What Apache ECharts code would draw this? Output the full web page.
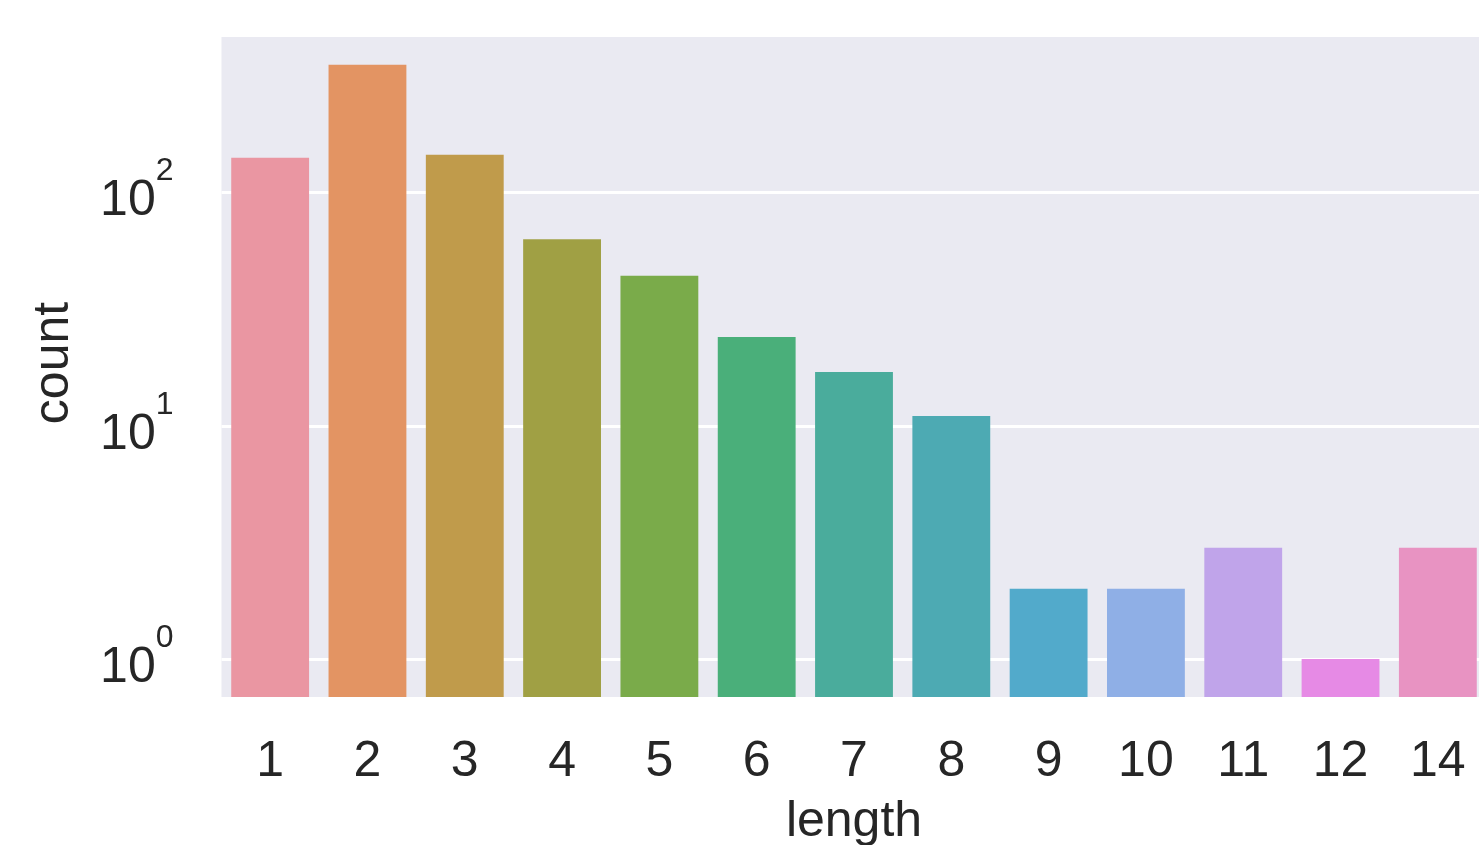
<!DOCTYPE html>
<html>
<head>
<meta charset="utf-8">
<script src="https://cdn.jsdelivr.net/npm/echarts@6/dist/echarts.min.js"></script>
<style>
  html, body { margin: 0; padding: 0; background: #fff; }
  #chart { width: 1479px; height: 845px; }
</style>
</head>
<body>
<div id="chart"></div>
<script>
// 数据
const lengths = ['1', '2', '3', '4', '5', '6', '7', '8', '9', '10', '11', '12', '14'];
const counts = [141, 353, 145, 63, 44, 24, 17, 11, 2, 2, 3, 1, 3];
const barColors = ['#ea96a2', '#e39463', '#c09b4b', '#a0a044', '#7aab4a', '#4aaf7a', '#4aac9c',
                   '#4daab3', '#52aacb', '#8fafe6', '#c0a4ea', '#e68ae5', '#e893c2'];
const yMin = 0.6874;
const yMax = 464;

const font = '"Liberation Sans", Arial, Helvetica, sans-serif';
const ink = '#262626';

let myChart = echarts.init(document.getElementById('chart'));
let option = {
    animation: false,
    grid: {
        left: 221.5,
        top: 37,
        width: 1265,
        height: 660,
        show: true,
        backgroundColor: '#eaeaf2',
        borderWidth: 0,
        outerBoundsMode: 'none',//不自动收缩网格
        containLabel: false,
    },
    xAxis: {
        type: 'category',
        data: lengths,
        name: 'length',
        nameLocation: 'middle',
        nameGap: 100,
        nameTextStyle: { fontSize: 50, color: ink, fontFamily: font },
        axisLine: { show: false },
        axisTick: { show: false },//去掉刻度线
        splitLine: { show: false },
        axisLabel: {
            margin: 40,
            fontSize: 50,
            color: ink,
            fontFamily: font,
        },
    },
    yAxis: {
        type: 'log',
        logBase: 10,
        min: yMin,
        max: yMax,
        startValue: yMin,
        name: 'count',
        nameLocation: 'middle',
        nameGap: 142,
        nameTextStyle: { fontSize: 50, color: ink, fontFamily: font, padding: [0, 0, 0, 8] },
        axisLine: { show: false },
        axisTick: { show: false },
        splitLine: {
            showMinLine: false,
            showMaxLine: false,
            lineStyle: { color: '#ffffff', width: 3 },
        },
        axisLabel: {
            showMinLabel: false,
            showMaxLabel: false,
            margin: 48,
            padding: [18, 0, 0, 0],
            color: ink,
            fontFamily: font,
            formatter: function (v) {
                let e = Math.round(Math.log10(v));
                return '{b|10}{s|' + e + '}';
            },
            rich: {
                b: { fontSize: 50, lineHeight: 92, color: ink, fontFamily: font },
                s: { fontSize: 32, lineHeight: 35, verticalAlign: 'top', color: ink, fontFamily: font },
            },
        },
    },
    series: [{
        type: 'bar',
        barCategoryGap: '20%',
        data: counts.map((c, i) => ({ value: c, itemStyle: { color: barColors[i] } })),
    }],
};
myChart.setOption(option);
</script>
</body>
</html>
